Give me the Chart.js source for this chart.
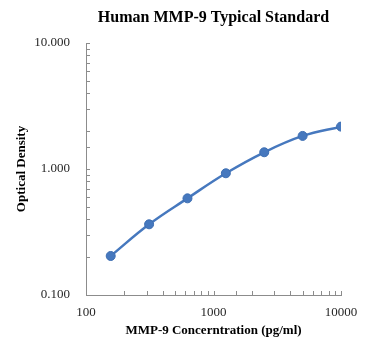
<!DOCTYPE html>
<html>
<head>
<meta charset="utf-8">
<script src="https://cdn.jsdelivr.net/npm/chart.js@4/dist/chart.umd.min.js"></script>
<style>
html,body{margin:0;padding:0;background:#fff;}
#wrap{position:relative;width:371px;height:352px;}
</style>
</head>
<body>
<div id="wrap"><canvas id="c" width="371" height="352"></canvas></div>
<script>
const chartTitle = "Human MMP-9 Typical Standard";
const xTitle = "MMP-9 Concerntration (pg/ml)";
const yTitle = "Optical Density";
const concentrations = [156.25, 312.5, 625, 1250, 2500, 5000, 10000];
const odValues = [0.204, 0.364, 0.585, 0.925, 1.358, 1.83, 2.17];
const xTickLabels = [100, 1000, 10000];
const yTickLabels = [0.1, 1, 10];

const blue = '#4678BE';
const axisGray = '#8c8c8c';

const innerTicks = {
  id: 'innerTicks',
  afterDatasetsDraw(chart) {
    const ctx = chart.ctx;
    const xs = chart.scales.x, ys = chart.scales.y;
    const area = chart.chartArea;
    ctx.save();
    ctx.strokeStyle = axisGray;
    ctx.lineWidth = 1;
    ys.ticks.forEach(t => {
      const y = Math.round(ys.getPixelForValue(t.value)) + 0.5;
      ctx.beginPath();
      ctx.moveTo(area.left, y);
      ctx.lineTo(area.left + 4, y);
      ctx.stroke();
    });
    xs.ticks.forEach(t => {
      const x = Math.round(xs.getPixelForValue(t.value)) + 0.5;
      ctx.beginPath();
      ctx.moveTo(x, area.bottom);
      ctx.lineTo(x, area.bottom - 4);
      ctx.stroke();
    });
    ctx.restore();
  },
  afterDraw(chart) {
    const ctx = chart.ctx;
    const area = chart.chartArea;
    ctx.save();
    ctx.fillStyle = '#000';
    ctx.font = 'bold 16px "Liberation Serif", "Times New Roman", serif';
    ctx.textAlign = 'center';
    ctx.textBaseline = 'middle';
    ctx.fillText(chartTitle, (area.left + area.right) / 2, 18);
    ctx.restore();
  }
};

const isMajor = (v, list) => list.some(m => Math.abs(v - m) / m < 1e-6);

new Chart(document.getElementById('c'), {
  type: 'scatter',
  data: {
    datasets: [{
      data: concentrations.map((c, i) => ({x: c, y: odValues[i]})),
      showLine: true,
      borderColor: blue,
      backgroundColor: blue,
      borderWidth: 2.5,
      pointRadius: 4.5,
      pointBorderWidth: 1,
      pointBorderColor: '#3d6eb2',
      tension: 0.4
    }]
  },
  plugins: [innerTicks],
  options: {
    responsive: false,
    animation: false,
    layout: {padding: {top: 43, right: 30, left: 0, bottom: 14}},
    plugins: {legend: {display: false}, tooltip: {enabled: false}, title: {display: false}},
    scales: {
      x: {
        type: 'logarithmic',
        min: 100, max: 10000,
        afterFit(s) { s.height = 43; },
        grid: {drawOnChartArea: false, drawTicks: false},
        border: {display: true, color: axisGray, width: 1},
        ticks: {
          autoSkip: false, maxRotation: 0, padding: 10,
          color: '#262626',
          font: {family: '"Liberation Serif", "Times New Roman", serif', size: 13},
          callback: (v) => isMajor(v, xTickLabels) ? String(v) : ''
        },
        title: {
          display: true, text: xTitle, color: '#000', padding: {top: 2, bottom: 0},
          font: {family: '"Liberation Serif", "Times New Roman", serif', size: 13, weight: 'bold'}
        }
      },
      y: {
        type: 'logarithmic',
        min: 0.1, max: 10,
        afterFit(s) { s.width = 86; },
        grid: {drawOnChartArea: false, drawTicks: false},
        border: {display: true, color: axisGray, width: 1},
        ticks: {
          autoSkip: false, padding: 16,
          color: '#262626',
          font: {family: '"Liberation Serif", "Times New Roman", serif', size: 13},
          callback: (v) => isMajor(v, yTickLabels) ? Number(v).toFixed(3) : ''
        },
        title: {
          display: true, text: yTitle, color: '#000', padding: {top: 14, bottom: 0},
          font: {family: '"Liberation Serif", "Times New Roman", serif', size: 13, weight: 'bold'}
        }
      }
    }
  }
});
</script>
</body>
</html>
